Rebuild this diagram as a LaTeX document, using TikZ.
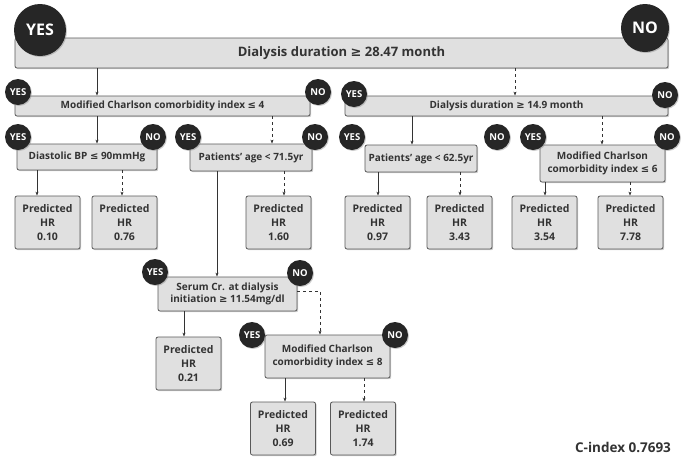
\documentclass[tikz,border=0pt]{standalone}
\usepackage{fontspec}
\setmainfont{Open Sans}
\newfontfamily\symf{DejaVu Sans}
\newcommand{\mygeq}{{\symf\bfseries ≥}}
\newcommand{\myleq}{{\symf\bfseries ≤}}
\usetikzlibrary{shadows,arrows.meta}
\begin{document}
\begin{tikzpicture}[x=1pt,y=-1pt,
  box/.style={draw=black!65,fill=black!12,rounded corners=2pt,line width=0.8pt,drop shadow={shadow xshift=1.2pt,shadow yshift=-1.2pt,opacity=0.4},align=center,inner sep=1pt,font=\fontsize{10}{12.5}\selectfont\bfseries,text=black!80},
  leaf/.style={box,minimum width=65pt,minimum height=53pt,font=\fontsize{10.5}{14}\selectfont\bfseries},
  bub/.style={circle,fill=black!85,text=white,font=\fontsize{9.5}{10}\selectfont\bfseries,inner sep=0pt,minimum size=#1,drop shadow={shadow xshift=1pt,shadow yshift=-1pt,opacity=0.4}},
  bub/.default=26pt,
  yesarr/.style={-{Stealth[length=4pt,width=3pt]},black!80,line width=0.7pt},
  noarr/.style={yesarr,dashed}]
\useasboundingbox (0,0) rectangle (685,464);
% top
\node[box,minimum width=653pt,minimum height=30pt,font=\fontsize{13}{15}\selectfont\bfseries] (top) at (341.5,53) {Dialysis duration \mygeq{} 28.47 month};
\node[bub=52pt,font=\fontsize{16}{17}\selectfont\bfseries] (ty) at (40,30) {YES};
\node[bub=48pt,font=\fontsize{16}{17}\selectfont\bfseries] (tn) at (645,28) {NO};
% level 2
\node[box,minimum width=295pt,minimum height=20pt] (l2a) at (162.5,106) {Modified Charlson comorbidity index \myleq{} 4};
\node[bub] (l2ay) at (18,92) {YES};
\node[bub] (l2an) at (318,92) {NO};
\node[box,minimum width=323pt,minimum height=20pt] (l2b) at (506.5,106) {Dialysis duration \mygeq{} 14.9 month};
\node[bub] (l2by) at (354,94) {YES};
\node[bub] (l2bn) at (665,95) {NO};
% level 3
\node[box,minimum width=140pt,minimum height=26pt] (d) at (87,157) {Diastolic BP \myleq{} 90mmHg};
\node[bub] (dy) at (18,137) {YES};
\node[bub] (dn) at (153,137) {NO};
\node[box,minimum width=122pt,minimum height=27pt] (pa) at (251,157.5) {Patients’ age < 71.5yr};
\node[bub] (pay) at (188,137) {YES};
\node[bub] (pan) at (315,137) {NO};
\node[box,minimum width=112pt,minimum height=27pt] (pb) at (421,158.5) {Patients’ age < 62.5yr};
\node[bub] (pby) at (352,137) {YES};
\node[bub] (pbn) at (497,137) {NO};
\node[box,minimum width=125pt,minimum height=37pt] (mc) at (602.5,163.5) {Modified Charlson\\comorbidity index \myleq{} 6};
\node[bub] (mcy) at (533,137) {YES};
\node[bub] (mcn) at (667,137) {NO};
% leaves
\node[leaf] (h1) at (47.5,222.5) {Predicted\\HR\\0.10};
\node[leaf] (h2) at (124.5,222.5) {Predicted\\HR\\0.76};
\node[leaf] (h3) at (278.5,222.5) {Predicted\\HR\\1.60};
\node[leaf] (h4) at (377.5,222.5) {Predicted\\HR\\0.97};
\node[leaf] (h5) at (459.5,222.5) {Predicted\\HR\\3.43};
\node[leaf] (h6) at (544.5,222.5) {Predicted\\HR\\3.54};
\node[leaf] (h7) at (630.5,222.5) {Predicted\\HR\\7.78};
% serum
\node[box,minimum width=139pt,minimum height=34pt] (s) at (227.5,294) {Serum Cr. at dialysis\\initiation \mygeq{} 11.54mg/dl};
\node[bub] (sy) at (155,272) {YES};
\node[bub] (sn) at (300,273) {NO};
\node[leaf] (h8) at (188.5,363.5) {Predicted\\HR\\0.21};
\node[box,minimum width=125pt,minimum height=43pt] (m8) at (327.5,356.5) {Modified Charlson\\comorbidity index \myleq{} 8};
\node[bub] (m8y) at (252,335) {YES};
\node[bub] (m8n) at (395,335) {NO};
\node[leaf] (h9) at (283,428.5) {Predicted\\HR\\0.69};
\node[leaf] (h10) at (363,428.5) {Predicted\\HR\\1.74};
\node[font=\fontsize{13.5}{15}\selectfont\bfseries,text=black!80] (ci) at (623,447) {C-index 0.7693};
% arrows
\draw[yesarr] (top.south -| 97,0) -- (l2a.north -| 97,0);
\draw[noarr] (top.south -| 515,0) -- (l2b.north -| 515,0);
\draw[yesarr] (l2a.south -| 97,0) -- (d.north -| 97,0);
\draw[noarr] (l2a.south -| 272,0) -- (pa.north -| 272,0);
\draw[yesarr] (l2b.south -| 412,0) -- (pb.north -| 412,0);
\draw[noarr] (l2b.south -| 602,0) -- (mc.north -| 602,0);
\draw[yesarr] (d.south -| 37,0) -- (h1.north -| 37,0);
\draw[noarr] (d.south -| 122,0) -- (h2.north -| 122,0);
\draw[noarr] (pa.south -| 284,0) -- (h3.north -| 284,0);
\draw[yesarr] (pa.south -| 217,0) -- (s.north -| 217,0);
\draw[yesarr] (pb.south -| 378,0) -- (h4.north -| 378,0);
\draw[noarr] (pb.south -| 460,0) -- (h5.north -| 460,0);
\draw[yesarr] (mc.south -| 545,0) -- (h6.north -| 545,0);
\draw[noarr] (mc.south -| 630,0) -- (h7.north -| 630,0);
\draw[yesarr] (s.south -| 184,0) -- (h8.north -| 184,0);
\draw[noarr] (s.east |- 0,291) -| (m8.north -| 320,0);
\draw[yesarr] (m8.south -| 285,0) -- (h9.north -| 285,0);
\draw[noarr] (m8.south -| 364,0) -- (h10.north -| 364,0);
\end{tikzpicture}
\end{document}
